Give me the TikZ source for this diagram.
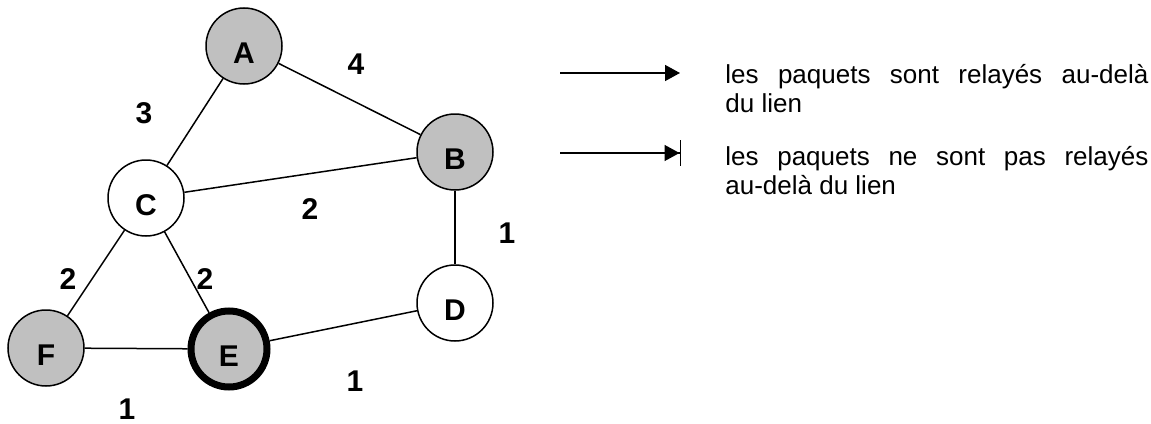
\documentclass[tikz,border=0pt]{standalone}
\usepackage{fontspec}
\setmainfont{Liberation Sans}
\usetikzlibrary{arrows.meta}
\definecolor{relaygray}{HTML}{C0C0C0}
\tikzset{
  router/.style={circle, draw, line width=0.75pt, minimum size=38pt, inner sep=0pt,
    font=\fontsize{15pt}{17pt}\selectfont\bfseries, text height=17.75pt, text depth=0pt},
  relay/.style={router, fill=relaygray},
  cost/.style={font=\fontsize{15pt}{17pt}\selectfont\bfseries, inner sep=0pt},
  legendtext/.style={font=\fontsize{13pt}{14.75pt}\selectfont, inner sep=0pt, anchor=base west}
}
\begin{document}
\begin{tikzpicture}[x=0.5pt, y=-0.5pt]
      \useasboundingbox (0,0) rectangle (1151,423);
      \draw
        (244,46) node[relay] (a){A}
        (455,152) node[relay] (b){B}
        (146,198) node[router] (c){C}
        (455,303) node[router] (d){D}
        (229,349) node[relay, line width=3.5pt] (e){E}
        (46,348) node[relay] (f){F};
      \begin{scope}[-, line width=0.75pt]
        \draw (a) to (c);
        \draw (a) to (b);
        \draw (c) to (b);
        \draw (b) to (d);
        \draw (c) to (f);
        \draw (c) to (e);
        \draw (f) to (e);
        \draw (e) to (d);
      \end{scope}
      \path
        (356,64) node[cost] (ab){4}
        (144,113) node[cost] (ac){3}
        (310,209) node[cost] (cb){2}
        (507,233) node[cost] (bd){1}
        (68,279) node[cost] (cf){2}
        (205,279) node[cost] (ce){2}
        (355,381) node[cost] (ed){1}
        (127,409) node[cost] (fe){1};
      \coordinate (passfrom) at (560,73);
      \coordinate (passto) at (680,73);
      \coordinate (stopfrom) at (560,153);
      \coordinate (stopto) at (681,153);
      \draw[line width=0.75pt, -{Triangle[length=7.5pt, width=8pt]}] (passfrom) -- (passto);
      \draw[line width=0.75pt, -{Triangle[length=7.5pt, width=8pt]Bar[width=13pt]}] (stopfrom) -- (stopto);
      \node[legendtext] (pass) at (725,83)
        {\parbox[t]{211.5pt}{les paquets sont relayés au-delà\linebreak du lien}};
      \node[legendtext] (stop) at (725,165)
        {\parbox[t]{211.5pt}{les paquets ne sont pas relayés\linebreak au-delà du lien}};
\end{tikzpicture}
\end{document}
